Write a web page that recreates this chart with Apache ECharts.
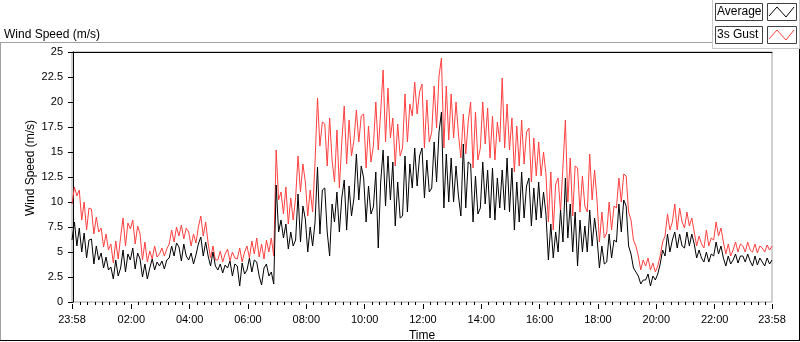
<!DOCTYPE html>
<html>
<head>
<meta charset="utf-8">
<script src="https://cdn.jsdelivr.net/npm/echarts@6/dist/echarts.min.js"></script>
<style>
  html, body { margin: 0; padding: 0; background: #fff; }
  #chart { width: 800px; height: 342px; }
</style>
</head>
<body>
<div id="chart"></div>
<script>
// samples every 5 minutes, first one at 23:58 of the previous day (minute -2)
var startMin = -2;
var stepMin = 5;

var average = [
  6.2, 8.0, 5.6, 7.4, 5.0, 6.9, 4.4, 6.2, 6.3, 3.8, 5.6, 4.2, 4.9, 3.4, 4.5, 3.2,
  3.5, 2.3, 4.2, 2.6, 3.4, 5.2, 3.0, 4.8, 4.2, 5.4, 3.3, 4.9, 4.3, 2.5, 3.8, 2.3,
  3.4, 4.3, 3.2, 4.0, 3.6, 4.1, 3.3, 4.2, 4.4, 5.6, 4.6, 5.9, 5.5, 4.1, 5.8, 4.6,
  4.2, 4.9, 3.8, 4.7, 5.8, 6.5, 4.6, 6.0, 4.6, 3.6, 5.0, 3.6, 3.2, 3.8, 2.9, 3.7,
  3.4, 4.1, 2.6, 3.8, 3.6, 1.6, 3.9, 2.8, 3.2, 4.4, 3.0, 4.2, 4.0, 2.6, 1.7, 3.4,
  3.8, 2.6, 3.0, 1.8, 11.7, 7.0, 8.2, 6.4, 7.8, 5.3, 7.0, 5.6, 6.2, 10.8, 6.0, 9.6,
  8.3, 5.0, 7.5, 5.6, 8.0, 13.5, 6.8, 11.2, 11.4, 7.0, 4.6, 9.8, 8.0, 11.0, 7.0, 10.4,
  12.2, 7.2, 11.6, 8.6, 10.4, 14.8, 10.2, 13.6, 12.4, 8.0, 11.6, 8.8, 9.5, 13.0, 5.4, 12.0,
  15.2, 9.6, 14.6, 10.2, 14.0, 7.6, 12.0, 8.4, 8.6, 14.6, 9.0, 13.8, 11.4, 15.4, 11.6, 14.6,
  15.4, 10.4, 14.2, 11.0, 11.4, 16.0, 12.0, 17.0, 19.0, 9.4, 14.8, 10.0, 14.4, 10.0, 13.6, 10.6,
  8.6, 15.8, 9.4, 14.0, 13.8, 8.0, 12.6, 8.8, 9.4, 14.0, 9.8, 13.2, 8.4, 13.4, 8.2, 12.4,
  9.4, 13.2, 9.2, 14.4, 9.0, 13.4, 7.2, 12.0, 8.0, 13.0, 8.4, 11.6, 12.4, 7.6, 11.4, 8.2,
  12.0, 8.4, 11.0, 8.8, 4.2, 7.8, 4.4, 7.0, 5.0, 9.2, 6.0, 12.4, 6.4, 9.8, 5.0, 9.0,
  3.6, 8.2, 5.0, 7.6, 5.0, 9.2, 5.6, 8.4, 6.4, 3.4, 5.6, 3.8, 4.0, 6.8, 4.4, 6.2,
  6.0, 9.8, 7.0, 10.2, 9.6, 5.6, 4.8, 3.4, 3.0, 2.6, 1.8, 2.2, 2.2, 2.8, 1.6, 2.6,
  2.2, 2.8, 3.8, 5.2, 4.6, 6.8, 5.0, 6.2, 7.0, 5.4, 6.8, 5.6, 5.4, 7.0, 5.6, 6.8,
  5.8, 4.4, 5.2, 4.4, 4.0, 5.0, 4.0, 4.8, 4.6, 6.0, 4.8, 5.6, 4.4, 3.6, 4.6, 3.8,
  4.2, 4.8, 3.9, 4.6, 4.6, 4.0, 4.8, 4.1, 3.6, 4.6, 3.7, 4.4, 4.0, 3.6, 4.4, 3.8,
  4.2
];

var gust = [
  9.8, 11.5, 10.6, 11.2, 8.2, 10.0, 7.2, 9.4, 9.3, 6.8, 8.5, 7.0, 7.4, 5.5, 6.8, 5.2,
  5.8, 3.9, 6.1, 4.3, 6.5, 8.4, 5.6, 7.9, 7.3, 8.2, 5.8, 7.6, 6.8, 4.2, 6.0, 4.0,
  5.1, 4.3, 5.6, 4.5, 4.8, 5.4, 4.6, 5.3, 5.8, 7.2, 6.0, 7.5, 6.6, 7.7, 6.3, 7.4,
  7.0, 5.6, 6.8, 5.9, 7.5, 8.6, 6.6, 8.0, 5.9, 4.4, 5.6, 4.2, 4.2, 5.1, 4.0, 4.8,
  5.3, 4.1, 5.0, 4.4, 4.3, 5.4, 4.0, 5.0, 5.6, 4.4, 6.1, 4.8, 6.4, 4.5, 5.8, 4.3,
  6.2, 5.0, 6.4, 4.6, 15.2, 10.2, 11.0, 8.8, 11.5, 7.8, 10.4, 8.2, 10.4, 14.6, 11.0, 13.8,
  12.0, 8.6, 11.2, 9.0, 14.0, 20.4, 15.6, 18.0, 17.8, 13.6, 18.4, 14.2, 12.0, 17.2, 11.4, 16.0,
  19.6, 13.8, 18.2, 14.6, 16.2, 19.2, 16.0, 18.6, 18.8, 13.4, 17.6, 14.0, 15.6, 20.0, 15.2, 19.0,
  23.2, 16.0, 21.4, 16.4, 18.4, 13.6, 17.8, 14.6, 15.4, 20.8, 16.0, 19.8, 18.6, 22.0, 18.8, 21.0,
  21.8, 15.4, 20.2, 16.0, 17.0, 21.6, 17.4, 22.6, 24.4, 15.4, 21.6, 16.2, 20.8, 16.4, 20.0, 16.8,
  14.4, 18.8, 14.8, 18.0, 20.0, 13.4, 19.0, 14.2, 15.4, 20.0, 15.8, 19.4, 14.4, 18.6, 14.2, 18.0,
  16.0, 22.4, 15.4, 19.8, 15.2, 18.4, 13.0, 17.6, 13.6, 18.2, 13.8, 17.0, 17.4, 12.0, 16.4, 12.6,
  16.0, 12.6, 15.0, 12.8, 8.0, 13.0, 7.2, 11.8, 12.4, 9.0, 13.6, 18.2, 10.0, 14.4, 8.6, 13.6,
  13.4, 9.0, 12.6, 9.6, 9.0, 14.8, 10.2, 13.2, 10.2, 6.0, 9.0, 6.4, 6.9, 10.0, 7.2, 9.6,
  9.4, 12.4, 10.0, 12.8, 12.6, 9.0, 8.2, 6.2, 5.6, 4.6, 3.2, 4.2, 3.6, 4.4, 3.2, 3.9,
  3.0, 3.6, 4.6, 6.0, 6.6, 8.8, 7.2, 8.0, 9.8, 7.2, 9.4, 8.0, 7.4, 9.0, 7.6, 8.4,
  7.0, 5.6, 6.6, 5.8, 5.4, 7.2, 5.6, 6.4, 6.2, 8.0, 6.6, 7.4, 6.0, 4.8, 5.8, 4.6,
  5.2, 6.0, 5.0, 5.8, 5.6, 5.0, 6.0, 5.2, 5.0, 5.8, 4.9, 5.6, 5.4, 5.0, 5.7, 5.2,
  5.6
];

var majorTicks = [-2, 120, 240, 360, 480, 600, 720, 840, 960, 1080, 1200, 1320, 1438];
var majorLabels = ['23:58', '02:00', '04:00', '06:00', '08:00', '10:00', '12:00',
                   '14:00', '16:00', '18:00', '20:00', '22:00', '23:58'];

var minorTicks = [];
for (var m = 15; m < 1438; m += 15) {
  if (m % 120 !== 0) minorTicks.push(m);
}

function toPairs(values) {
  return values.map(function (v, i) { return [startMin + i * stepMin, v]; });
}

var font = 'Liberation Sans';
var xMin = -2, xMax = 1438;

var chart = echarts.init(document.getElementById('chart'));

var option = {
  animation: false,
  backgroundColor: '#fff',
  grid: {
    left: 72, top: 52, right: 28, bottom: 40,
    outerBoundsMode: 'none', containLabel: false,
    show: true, borderColor: '#a0a0a0', borderWidth: 1, backgroundColor: '#fff'
  },
  xAxis: [
    {
      type: 'value', min: xMin, max: xMax, position: 'bottom', offset: 2,
      axisLine: { show: false },
      axisTick: { show: true, customValues: minorTicks, length: 3, lineStyle: { color: '#000' } },
      axisLabel: { show: false },
      splitLine: { show: false }
    },
    {
      type: 'value', min: xMin, max: xMax, position: 'bottom', offset: 2,
      axisLine: { show: false },
      axisTick: { show: true, customValues: majorTicks, length: 5, lineStyle: { color: '#000' } },
      axisLabel: {
        show: true, customValues: majorTicks, margin: 10,
        color: '#000', fontFamily: font, fontSize: 11,
        formatter: function (v) {
          var k = majorTicks.indexOf(v);
          return k >= 0 ? majorLabels[k] : '';
        }
      },
      splitLine: { show: false },
      name: 'Time', nameLocation: 'middle', nameGap: 24,
      nameTextStyle: { color: '#000', fontFamily: font, fontSize: 12 }
    },
    {
      type: 'value', min: xMin, max: xMax, position: 'top',
      axisLine: { show: true, lineStyle: { color: '#000', width: 1 } },
      axisTick: { show: false },
      axisLabel: { show: false },
      splitLine: { show: false }
    }
  ],
  yAxis: {
    type: 'value', min: 0, max: 25, interval: 2.5,
    axisLine: { show: true, lineStyle: { color: '#000', width: 1 } },
    axisTick: { show: true, length: 5, lineStyle: { color: '#000' } },
    axisLabel: { color: '#000', fontFamily: font, fontSize: 11, margin: 9 },
    splitLine: { show: false }
  },
  series: [
    {
      name: '3s Gust', type: 'line', xAxisIndex: 0, data: toPairs(gust),
      showSymbol: false, symbol: 'none', sampling: 'none',
      lineStyle: { color: '#ff4040', width: 1 }, z: 2
    },
    {
      name: 'Average', type: 'line', xAxisIndex: 0, data: toPairs(average),
      showSymbol: false, symbol: 'none', sampling: 'none',
      lineStyle: { color: '#000', width: 1 }, z: 3
    }
  ],
  graphic: [
    // frame round the chart panel
    { type: 'line', shape: { x1: 0, y1: 42.5, x2: 712, y2: 42.5 }, style: { stroke: '#a0a0a0', lineWidth: 1 } },
    { type: 'line', shape: { x1: 0.5, y1: 42, x2: 0.5, y2: 341 }, style: { stroke: '#a0a0a0', lineWidth: 1 } },
    { type: 'line', shape: { x1: 0, y1: 340.5, x2: 800, y2: 340.5 }, style: { stroke: '#000', lineWidth: 1 } },
    { type: 'line', shape: { x1: 799.5, y1: 48, x2: 799.5, y2: 341 }, style: { stroke: '#000', lineWidth: 1 } },
    { type: 'line', shape: { x1: 712.5, y1: 0, x2: 712.5, y2: 48 }, style: { stroke: '#c8c8c8', lineWidth: 1 } },
    { type: 'line', shape: { x1: 712, y1: 48.5, x2: 800, y2: 48.5 }, style: { stroke: '#c8c8c8', lineWidth: 1 } },
    { type: 'line', shape: { x1: 799.5, y1: 0, x2: 799.5, y2: 48 }, style: { stroke: '#c8c8c8', lineWidth: 1 } },

    // titles
    {
      type: 'text', left: 4, top: 29,
      style: { text: 'Wind Speed (m/s)', fill: '#000', font: '12px "Liberation Sans"' }
    },
    {
      type: 'text', x: 31, y: 168, rotation: Math.PI / 2,
      style: { text: 'Wind Speed (m/s)', fill: '#000', font: '12px "Liberation Sans"',
               textAlign: 'center', textVerticalAlign: 'middle' }
    },

    // legend
    { type: 'rect', shape: { x: 715.5, y: 3.5, width: 47, height: 17 }, style: { fill: '#fff', stroke: '#404040', lineWidth: 1 } },
    { type: 'text', x: 717, y: 12, style: { text: 'Average', fill: '#000', font: '12px "Liberation Sans"', textVerticalAlign: 'middle' } },
    { type: 'rect', shape: { x: 767.5, y: 3.5, width: 29, height: 17 }, style: { fill: '#fff', stroke: '#404040', lineWidth: 1 } },
    { type: 'polyline', shape: { points: [[769, 16], [777, 7], [786, 17], [794, 7]] }, style: { stroke: '#000', lineWidth: 1, fill: null } },

    { type: 'rect', shape: { x: 715.5, y: 26.5, width: 47, height: 17 }, style: { fill: '#fff', stroke: '#404040', lineWidth: 1 } },
    { type: 'text', x: 717, y: 35, style: { text: '3s Gust', fill: '#000', font: '12px "Liberation Sans"', textVerticalAlign: 'middle' } },
    { type: 'rect', shape: { x: 767.5, y: 26.5, width: 29, height: 17 }, style: { fill: '#fff', stroke: '#404040', lineWidth: 1 } },
    { type: 'polyline', shape: { points: [[769, 39], [777, 30], [786, 40], [794, 30]] }, style: { stroke: '#ff4040', lineWidth: 1, fill: null } }
  ]
};

chart.setOption(option);
</script>
</body>
</html>
